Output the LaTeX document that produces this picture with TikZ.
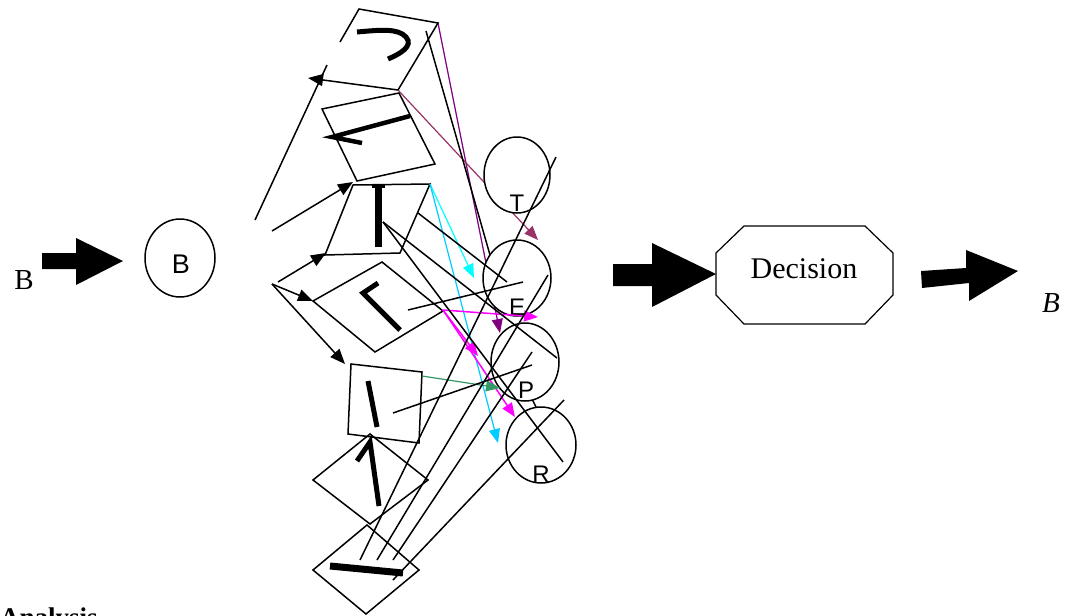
\documentclass[tikz,border=0pt]{standalone}
\usepackage{fontspec}
\setmainfont{Liberation Serif}
\newfontfamily\lblfont{Liberation Sans}
\usetikzlibrary{arrows.meta,shapes.geometric}
\definecolor{cpurple}{RGB}{128,0,128}
\definecolor{cmaroon}{RGB}{153,51,102}
\definecolor{ccyan}{RGB}{0,255,255}
\definecolor{csky}{RGB}{0,204,255}
\definecolor{cmag}{RGB}{255,0,255}
\definecolor{cgreen}{RGB}{51,153,102}
\begin{document}
\begin{tikzpicture}[x=1pt,y=-1pt,
  ln/.style={line width=1.5pt},
  arr/.style={line width=1.5pt,-{Triangle[length=15pt,width=12pt]}},
  carr/.style={line width=1.2pt,-{Triangle[length=14pt,width=11pt]}},
  circ/.style={ellipse,draw,line width=1.5pt,fill=white,inner sep=0pt},
  shp/.style={line width=1.5pt,line join=miter},
  markline/.style={line width=5pt},
  lbl/.style={font=\lblfont\fontsize{24}{24}\selectfont,inner sep=0pt},
  serif/.style={font=\fontsize{29}{29}\selectfont,inner sep=0pt}
]
\useasboundingbox (0,0) rectangle (1069,616);
\fill[white] (0,0) rectangle (1069,616);

% named coordinates
\coordinate (s1a) at (438,23);
\coordinate (s1b) at (398,90);
\coordinate (s1c) at (426,31);
\coordinate (s3tr) at (430,184);
\coordinate (s3bar) at (383,222);
\coordinate (s3r) at (418,213);
\coordinate (s4r) at (443,310);
\coordinate (s4c) at (408,310);
\coordinate (s5tr) at (422,376);
\coordinate (s5c) at (393,413);
\coordinate (l0) at (255,220);
\coordinate (l0e) at (327,65);
\coordinate (a1e) at (308,78);
\coordinate (a2s) at (272,231);
\coordinate (a2e) at (353,182);
\coordinate (a3s) at (278,282);
\coordinate (a3e) at (326,253);
\coordinate (a45s) at (272,284);
\coordinate (a4e) at (313,301);
\coordinate (a5e) at (345,364);
\coordinate (b1) at (360,560);
\coordinate (b2) at (377,560);
\coordinate (b3) at (393,560);
\coordinate (b4) at (393,580);
\coordinate (pr1) at (525,385);
\coordinate (pr2) at (545,425);

% lines hidden behind circles
\draw[carr,cpurple] (s1a) -- (500,333) coordinate (pu);
\draw[carr,cmaroon] (s1b) -- (538,240) coordinate (ma);
\draw[ln] (s1c) -- (490,255) coordinate (bk);
\draw[ln] (pr1) -- (pr2);

% circles
\node[circ,minimum width=70pt,minimum height=78pt] (B) at (180,258) {};
\node[circ,minimum width=66pt,minimum height=76pt] (T) at (517,175) {};
\node[circ,minimum width=68pt,minimum height=76pt] (E) at (517,278) {};
\node[circ,minimum width=68pt,minimum height=78pt] (P) at (525,362) {};
\node[circ,minimum width=70pt,minimum height=76pt] (R) at (541,445) {};
\node[lbl,font=\lblfont\fontsize{27}{27}\selectfont] (Bl) at (181,264) {B};
\node[lbl] (Tl) at (517,203) {T};
\node[lbl] (El) at (517,307) {E};
\node[lbl] (Pl) at (526,390) {P};
\node[lbl] (Rl) at (541,474) {R};

% shapes
\draw[shp] (340,42) -- (359,9) -- (438,23) -- (398,90);
\draw[shp] (322,109) -- (399,93) -- (435,164) -- (357,181) -- cycle;
\draw[shp] (353,185) -- (430,184) -- (400,253) -- (325,255) -- cycle;
\draw[shp] (382,262) -- (443,311) -- (375,352) -- (313,301) -- cycle;
\draw[shp] (351,364) -- (422,372) -- (419,443) -- (348,434) -- cycle;
\draw[shp] (370,434) -- (428,480) -- (370,524) -- (313,480) -- cycle;
\draw[shp] (367,525) -- (419,570) -- (366,614) -- (313,570) -- cycle;

% marks inside shapes
\draw[markline] (357,32) .. controls (380,30) and (398,28) .. (406,37) .. controls (414,46) and (400,54) .. (388,59);
\draw[markline,line width=4.5pt] (410,116) -- (332,137) -- (362,143);
\draw[line width=7pt] (378,185) -- (378,247);
\draw[line width=3pt] (372,186) -- (385,186);
\draw[markline] (378,283) -- (363,293) -- (400,330);
\draw[markline] (368,381) -- (377,427);
\draw[markline] (357,461) -- (370,442) -- (379,506);
\draw[line width=7pt] (330,566) -- (403,573);

% black arrows on the left
\draw[ln] (l0) -- (l0e);
\draw[arr] (s1b) -- (a1e);
\draw[arr] (a2s) -- (a2e);
\draw[arr] (a3s) -- (a3e);
\draw[arr] (a45s) -- (a4e);
\draw[arr] (a45s) -- (a5e);

% coloured arrows
\draw[carr,ccyan] (s3tr) -- (474,278) coordinate (cy1);
\draw[carr,csky] (s3tr) -- (498,443) coordinate (cy2);
\draw[carr,cmag,line width=1.5pt] (s4r) -- (538,317) coordinate (mg1);
\draw[carr,cmag,line width=1.5pt] (s4r) -- (478,356) coordinate (mg2);
\draw[carr,cmag,line width=1.5pt] (s4r) -- (515,417) coordinate (mg3);
\draw[carr,cgreen] (s5tr) -- (500,388) coordinate (gr);

% black lines on top
\draw[ln] (556,157) coordinate (t1) -- (b1);
\draw[ln] (548,275) coordinate (t2) -- (b2);
\draw[ln] (532,352) coordinate (t3) -- (b3);
\draw[ln] (564,400) coordinate (t4) -- (b4);
\draw[ln] (s3bar) -- (557,358) coordinate (t5);
\draw[ln] (s3bar) -- (563,462) coordinate (t6);
\draw[ln] (s3r) -- (507,282) coordinate (t7);
\draw[ln] (s4c) -- (523,282) coordinate (t8);
\draw[ln] (s5c) -- (532,365) coordinate (t9);

% block arrows
\fill (42,253) -- (76,253) -- (76,238) -- (123,261) -- (76,285) -- (76,269) -- (42,269) -- cycle;
\fill (613,264) -- (652,264) -- (652,243) -- (716,274) -- (652,307) -- (652,286) -- (613,286) -- cycle;
\fill (921,271) -- (966,268) -- (966,250) -- (1018,271) -- (969,301) -- (969,283) -- (922,288) -- cycle;

% decision
\draw[line width=1.2pt] (744,226) -- (865,226) -- (893,253) -- (893,295) -- (865,324) -- (744,324) -- (716,295) -- (716,253) -- cycle;
\node[serif,font=\fontsize{30}{30}\selectfont,anchor=base] (dec) at (804,278) {Decision};

% texts
\node[serif,anchor=base] (Bin) at (24,289) {B};
\node[serif,font=\fontsize{29}{29}\selectfont\itshape,anchor=base] (Bout) at (1051,312) {B};
\node[serif,font=\fontsize{27}{27}\selectfont\bfseries,anchor=base west] (an) at (0,626) {Analysis};
\end{tikzpicture}
\end{document}
